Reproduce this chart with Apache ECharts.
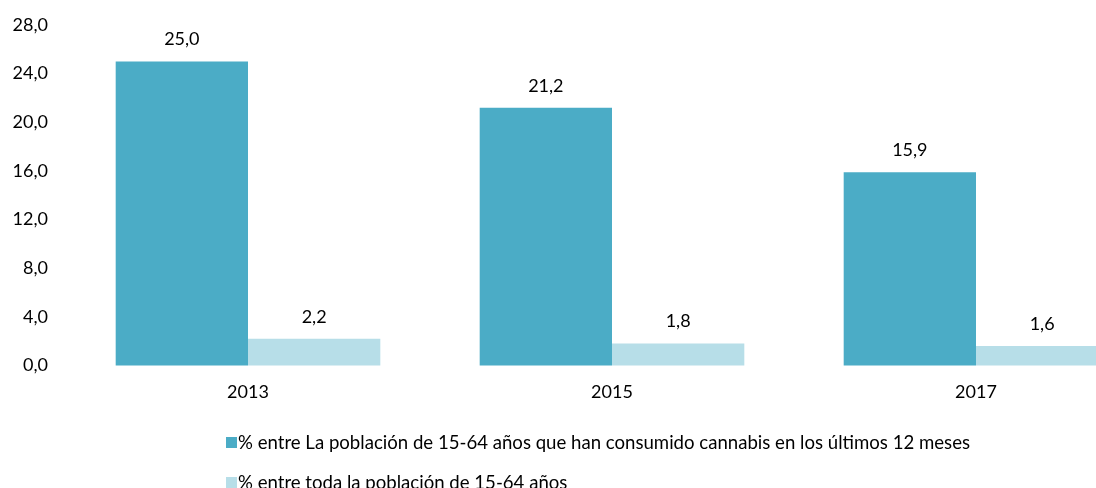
<!DOCTYPE html>
<html>
<head>
<meta charset="utf-8">
<script src="https://cdn.jsdelivr.net/npm/echarts@6/dist/echarts.min.js"></script>
<style>
  html, body { margin: 0; padding: 0; background: #fff; overflow: hidden; }
  /* the drawing area runs past the right and bottom edges of the window */
  #chart { width: 1158px; height: 530px; }
</style>
</head>
<body>
<div id="chart"></div>
<script>
// Survey years and consumption rates (%)
const years = ['2013', '2015', '2017'];
const seriesNames = [
  '% entre La población de 15-64 años que han consumido cannabis en los últimos 12 meses',
  '% entre toda la población de 15-64 años'
];
const usersShare = [25.0, 21.2, 15.9];
const totalShare = [2.2, 1.8, 1.6];
const yTicks = { min: 0, max: 28, interval: 4 };

const fmt = v => v.toFixed(1).replace('.', ',');
const FONT = 'Lato';
const FS = 18;

const chart = echarts.init(document.getElementById('chart'), null, { renderer: 'canvas' });

const barLabel = {
  show: true, position: 'top', distance: 13,
  fontFamily: FONT, fontSize: FS, color: '#000',
  formatter: p => fmt(p.value)
};

chart.setOption({
  animation: false,
  textStyle: { fontFamily: FONT, color: '#000' },
  grid: { left: 66, right: 0, top: 25, height: 340.5, containLabel: false },
  xAxis: {
    type: 'category',
    data: years,
    axisLine: { show: false },
    axisTick: { show: false },
    axisLabel: { fontFamily: FONT, fontSize: FS, color: '#000', margin: 18 }
  },
  yAxis: {
    type: 'value',
    min: yTicks.min,
    max: yTicks.max,
    interval: yTicks.interval,
    splitLine: { show: false },
    axisLine: { show: false },
    axisTick: { show: false },
    axisLabel: { fontFamily: FONT, fontSize: FS, color: '#000', margin: 18, formatter: fmt }
  },
  legend: {
    orient: 'vertical',
    left: 221,
    top: 428,
    itemWidth: 11,
    itemHeight: 11,
    itemGap: 21,
    icon: 'rect',
    textStyle: { fontFamily: FONT, fontSize: 18.6, color: '#000', padding: [0, 0, 0, -4] },
    data: seriesNames
  },
  series: [
    {
      name: seriesNames[0],
      type: 'bar',
      data: usersShare,
      barGap: '0%',
      barCategoryGap: '27.3%',
      itemStyle: { color: '#4BACC6' },
      label: barLabel
    },
    {
      name: seriesNames[1],
      type: 'bar',
      data: totalShare,
      barGap: '0%',
      barCategoryGap: '27.3%',
      itemStyle: { color: '#B7DEE8' },
      label: barLabel
    }
  ]
});
</script>
</body>
</html>
